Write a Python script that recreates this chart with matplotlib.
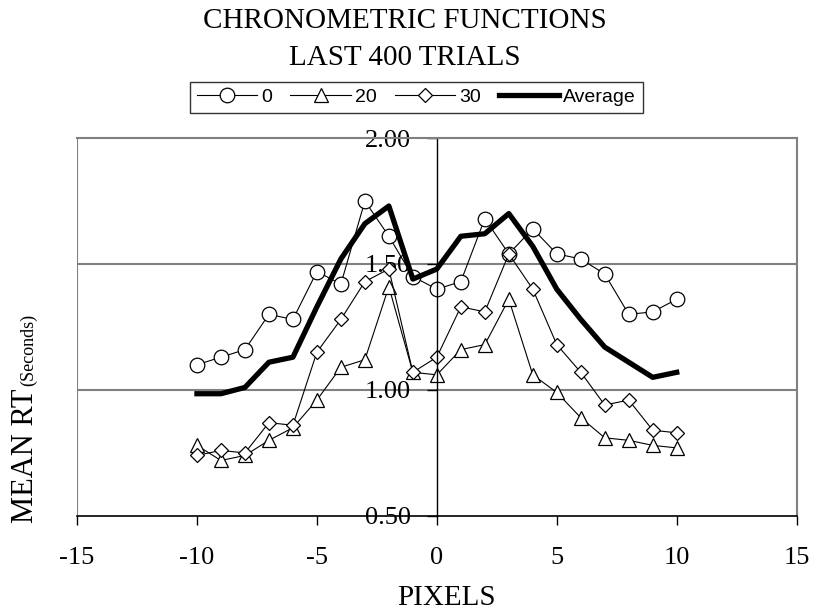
import matplotlib
matplotlib.use("Agg")
import matplotlib.pyplot as plt

# pixel offsets from target (trials 0, 20, 30 and their average)
pixels = list(range(-10, 11))

rt_0 = [1.10, 1.13, 1.16, 1.30, 1.28, 1.47, 1.42, 1.75, 1.61, 1.45, 1.40,
        1.43, 1.68, 1.54, 1.64, 1.54, 1.52, 1.46, 1.30, 1.31, 1.36]
rt_20 = [0.78, 0.72, 0.74, 0.80, 0.85, 0.96, 1.09, 1.12, 1.41, 1.07, 1.06,
         1.16, 1.18, 1.36, 1.06, 0.99, 0.89, 0.81, 0.80, 0.78, 0.77]
rt_30 = [0.74, 0.76, 0.75, 0.87, 0.86, 1.15, 1.28, 1.43, 1.48, 1.07, 1.13,
         1.33, 1.31, 1.54, 1.40, 1.18, 1.07, 0.94, 0.96, 0.84, 0.83]
rt_avg = [0.985, 0.985, 1.01, 1.11, 1.13, 1.33, 1.52, 1.66, 1.73, 1.44, 1.48,
          1.61, 1.62, 1.70, 1.57, 1.40, 1.28, 1.17, 1.11, 1.05, 1.07]

x_ticks = [-15, -10, -5, 0, 5, 10, 15]
y_ticks = [0.50, 1.00, 1.50, 2.00]

SERIF = "Liberation Serif"
SANS = "Liberation Sans"
GRAY = "#808080"

fig = plt.figure(figsize=(8.15, 6.12), dpi=100)
ax = fig.add_axes([0.0945, 0.157, 0.883, 0.6175])

ax.set_xlim(-15, 15)
ax.set_ylim(0.5, 2.0)

# gray frame + gridlines, black axes through zero
for y in y_ticks[1:-1]:
    ax.axhline(y, color=GRAY, lw=1.5, zorder=0)
ax.axvline(-15, color=GRAY, lw=1.5, zorder=0)
ax.spines["top"].set_color(GRAY)
ax.spines["top"].set_linewidth(1.5)
ax.spines["right"].set_color(GRAY)
ax.spines["right"].set_linewidth(1.5)
ax.spines["left"].set_position(("data", 0))
ax.spines["left"].set_linewidth(1.0)
ax.spines["bottom"].set_linewidth(1.2)

mk = dict(color="black", lw=0.8, mfc="white", mec="black", mew=0.9)
ax.plot(pixels, rt_0, marker="o", ms=10.5, label="0", **mk)
ax.plot(pixels, rt_20, marker="^", ms=10.5, label="20", **mk)
ax.plot(pixels, rt_30, marker="D", ms=7.5, label="30", **mk)
ax.plot(pixels, rt_avg, color="black", lw=3.8, label="Average")

ax.set_xticks(x_ticks)
ax.set_xticklabels([str(v) for v in x_ticks], fontfamily=SERIF, fontsize=19)
ax.set_yticks(y_ticks)
ax.set_yticklabels(["%.2f" % v for v in y_ticks], fontfamily=SERIF, fontsize=19)
ax.tick_params(axis="x", direction="out", length=6.5, width=1, pad=16)
ax.tick_params(axis="y", direction="out", length=7.5, width=1, pad=11)

# titles and axis labels
fig.text(0.497, 0.966, "CHRONOMETRIC FUNCTIONS", ha="center", va="center",
         fontfamily=SERIF, fontsize=21)
fig.text(0.497, 0.905, "LAST 400 TRIALS", ha="center", va="center",
         fontfamily=SERIF, fontsize=21)
fig.text(446 / 815, 1 - 598 / 612, "PIXELS", ha="center", va="center",
         fontfamily=SERIF, fontsize=21)

t1 = fig.text(0.0486, 1 - 523 / 612, "MEAN RT", rotation=90, ha="right",
              va="bottom", fontfamily=SERIF, fontsize=22)
fig.canvas.draw()
bb = t1.get_window_extent()
fig.text(0.0454, (bb.y1 + 2) / 612, "(Seconds)", rotation=90, ha="right",
         va="bottom", fontfamily=SERIF, fontsize=13)

leg = fig.legend(loc="center", bbox_to_anchor=(0.511, 0.841), ncol=4,
                 frameon=True, fancybox=False, edgecolor="black",
                 prop={"family": SANS, "size": 14}, handlelength=3.1,
                 handletextpad=0.2, columnspacing=0.95, borderpad=0.35)
leg.get_frame().set_linewidth(1.0)

fig.savefig("out.png", dpi=100)
